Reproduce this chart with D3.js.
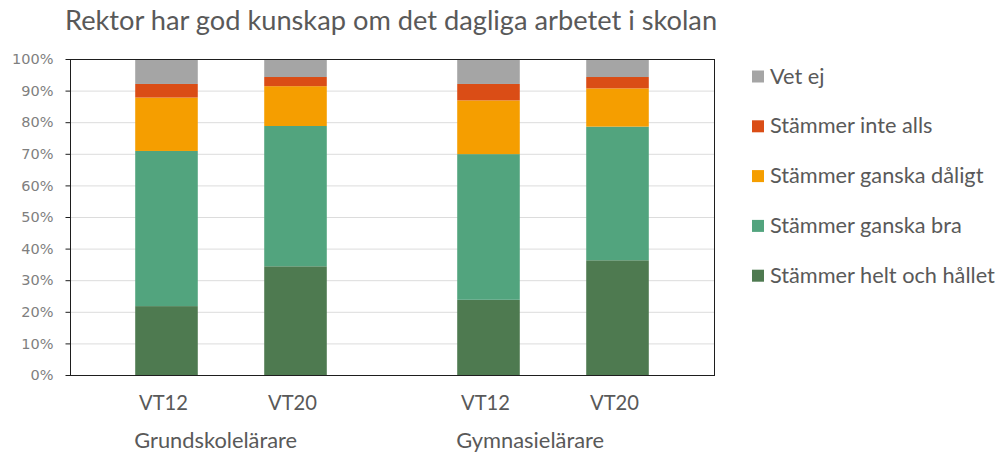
<!DOCTYPE html>
<html>
<head>
<meta charset="utf-8">
<script src="https://cdn.jsdelivr.net/npm/d3@7/dist/d3.min.js"></script>
<style>
  html, body { margin: 0; padding: 0; background: #fff; }
  svg { display: block; }
</style>
</head>
<body>
<svg id="chart" width="1002" height="455"></svg>
<script>
// Survey answers: "Rektor har god kunskap om det dagliga arbetet i skolan"
const title = "Rektor har god kunskap om det dagliga arbetet i skolan";
const groups = ["Grundskolelärare", "Gymnasielärare"];
const periods = ["VT12", "VT20"];
const seriesNames = [
  "Stämmer helt och hållet",
  "Stämmer ganska bra",
  "Stämmer ganska dåligt",
  "Stämmer inte alls",
  "Vet ej"
];
// percent per bar, order: Grundskola VT12, Grundskola VT20, Gymnasium VT12, Gymnasium VT20
const heltOchHallet = [21.8, 34.4, 23.8, 36.3];
const ganskaBra     = [49.1, 44.4, 46.1, 42.3];
const ganskaDaligt  = [16.9, 12.6, 17.0, 12.1];
const inteAlls      = [4.3, 2.9, 5.2, 3.6];
const vetEj         = [7.9, 5.7, 7.9, 5.7];
const yTicks = [0, 10, 20, 30, 40, 50, 60, 70, 80, 90, 100];
const colors = ["#4e7a50", "#52a47e", "#f59e00", "#da4d16", "#a5a5a5"];

const seriesValues = [heltOchHallet, ganskaBra, ganskaDaligt, inteAlls, vetEj];

const rows = [];
groups.forEach((g, gi) => periods.forEach((p, pi) => {
  const idx = gi * periods.length + pi;
  const row = { group: g, period: p };
  seriesNames.forEach((s, si) => { row[s] = seriesValues[si][idx]; });
  rows.push(row);
}));

const svg = d3.select("#chart");
const plot = { left: 70, right: 714, top: 59, bottom: 375 };

const x0 = d3.scaleBand().domain(groups).range([plot.left, plot.right]).padding(0);
const x1 = d3.scalePoint().domain(periods).range([0, x0.bandwidth()]).padding(0.748);
const barW = x1.step() * 0.485;
const y = d3.scaleLinear().domain([0, 100]).range([plot.bottom, plot.top]);

// font size that makes a text element span the given width
function fittedSize(sel, target) {
  const fs = parseFloat(sel.attr("font-size"));
  const w = sel.node().getComputedTextLength();
  return w > 0 ? fs * target / w : fs;
}
function fitWidth(sel, target) {
  sel.attr("font-size", fittedSize(sel, target).toFixed(2));
}

// gridlines
svg.append("g")
  .selectAll("line")
  .data(yTicks.filter(t => t > 0 && t < 100))
  .join("line")
  .attr("x1", plot.left).attr("x2", plot.right)
  .attr("y1", d => y(d) + 0.5).attr("y2", d => y(d) + 0.5)
  .attr("stroke", "#dcdcdc").attr("stroke-width", 1);

// stacked bars
const stack = d3.stack().keys(seriesNames);
const stacked = stack(rows);
svg.append("g")
  .selectAll("g")
  .data(stacked)
  .join("g")
  .attr("fill", (d, i) => colors[i])
  .selectAll("rect")
  .data(d => d)
  .join("rect")
  .attr("x", d => x0(d.data.group) + x1(d.data.period) - barW / 2)
  .attr("width", barW)
  .attr("y", d => y(d[1]))
  .attr("height", d => y(d[0]) - y(d[1]));

// plot frame
svg.append("rect")
  .attr("x", plot.left + 0.5).attr("y", plot.top + 0.5)
  .attr("width", plot.right - plot.left).attr("height", plot.bottom - plot.top)
  .attr("fill", "none").attr("stroke", "#1e1e1e").attr("stroke-width", 1);

// y axis
const yAxis = svg.append("g")
  .attr("transform", `translate(${plot.left + 0.5},0)`)
  .call(d3.axisLeft(y).tickValues(yTicks).tickFormat(d => d + "%").tickSize(5).tickPadding(12));
yAxis.select(".domain").remove();
yAxis.selectAll(".tick line").attr("stroke", "#1e1e1e");
yAxis.selectAll("text")
  .attr("font-family", "DejaVu Sans, Verdana, sans-serif")
  .attr("font-size", 14.5)
  .attr("fill", "#7f7f7f");

// category labels
const catFont = "Lato, Carlito, Calibri, sans-serif";
const periodLabels = svg.append("g");
rows.forEach(r => {
  periodLabels.append("text")
    .attr("x", x0(r.group) + x1(r.period) - 3)
    .attr("y", 410)
    .attr("text-anchor", "middle")
    .attr("font-family", catFont)
    .attr("font-size", 20)
    .attr("fill", "#595959")
    .text(r.period);
});
const periodSize = fittedSize(periodLabels.select("text"), 49);
periodLabels.selectAll("text").attr("font-size", periodSize.toFixed(2));

const groupWidths = [163, 148];
groups.forEach((g, gi) => {
  const t = svg.append("text")
    .attr("x", x0(g) + x1(periods[0]) - barW / 2 - 1)
    .attr("y", 448)
    .attr("font-family", catFont)
    .attr("font-size", 20)
    .attr("fill", "#595959")
    .text(g);
  fitWidth(t, groupWidths[gi]);
});

// title
const titleText = svg.append("text")
  .attr("x", 65).attr("y", 30)
  .attr("font-family", catFont)
  .attr("font-size", 26)
  .attr("fill", "#595959")
  .text(title);
fitWidth(titleText, 652);

// legend (top to bottom: reverse stacking order)
const legendOrder = seriesNames.map((s, i) => ({ name: s, color: colors[i] })).reverse();
const legend = svg.append("g");
const legendTexts = [];
legendOrder.forEach((d, i) => {
  const cy = 76.5 + i * 49.8;
  legend.append("rect")
    .attr("x", 752).attr("y", cy - 6)
    .attr("width", 12).attr("height", 12)
    .attr("fill", d.color);
  legendTexts.push(legend.append("text")
    .attr("x", 770).attr("y", cy + 7)
    .attr("font-family", catFont)
    .attr("font-size", 20)
    .attr("fill", "#595959")
    .text(d.name));
});
// scale all legend entries alike, from the longest one
const legendSize = fittedSize(legendTexts[legendTexts.length - 1], 225);
legend.selectAll("text").attr("font-size", legendSize.toFixed(2));
</script>
</body>
</html>
